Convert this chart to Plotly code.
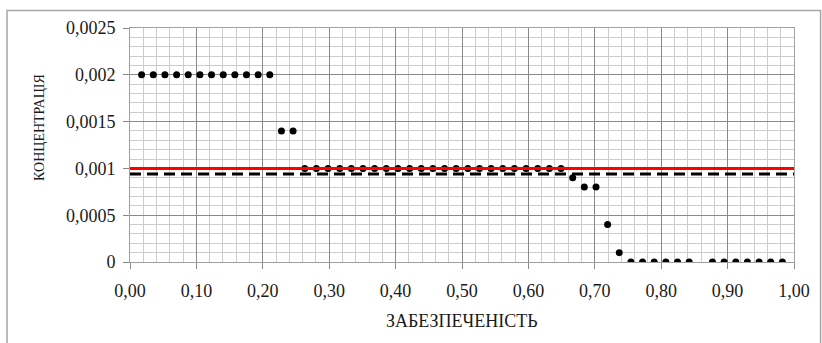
import plotly.graph_objects as go

# Probability of exceedance (забезпеченість) for each observation
prob = [0.0175, 0.0351, 0.0526, 0.0702, 0.0877, 0.1053, 0.1228, 0.1404, 0.1579, 0.1754,
        0.1930, 0.2105, 0.2281, 0.2456, 0.2632, 0.2807, 0.2982, 0.3158, 0.3333, 0.3509,
        0.3684, 0.3860, 0.4035, 0.4211, 0.4386, 0.4561, 0.4737, 0.4912, 0.5088, 0.5263,
        0.5439, 0.5614, 0.5789, 0.5965, 0.6140, 0.6316, 0.6491, 0.6667, 0.6842, 0.7018,
        0.7193, 0.7368, 0.7544, 0.7719, 0.7895, 0.8070, 0.8246, 0.8421, 0.8596, 0.8772,
        0.8947, 0.9123, 0.9298, 0.9474, 0.9649, 0.9825]
# Concentration values (None = no point plotted)
conc = [0.002] * 12 + [0.0014] * 2 + [0.001] * 23 + [0.0009, 0.0008, 0.0008, 0.0004, 0.0001] \
       + [0, 0, 0, 0, 0, 0, None, 0, 0, 0, 0, 0, 0, 0]

limit_value = 0.001      # red line
mean_value = 0.00094     # dashed line
line_x = [0, 1]

x_tickvals = [0.0, 0.1, 0.2, 0.3, 0.4, 0.5, 0.6, 0.7, 0.8, 0.9, 1.0]
x_ticktext = ["0,00", "0,10", "0,20", "0,30", "0,40", "0,50", "0,60", "0,70", "0,80", "0,90", "1,00"]
y_tickvals = [0, 0.0005, 0.001, 0.0015, 0.002, 0.0025]
y_ticktext = ["0", "0,0005", "0,001", "0,0015", "0,002", "0,0025"]

x_title = "ЗАБЕЗПЕЧЕНІСТЬ"
y_title = "КОНЦЕНТРАЦІЯ"

FONT = "Liberation Serif"

fig = go.Figure()
fig.add_trace(go.Scatter(x=prob, y=conc, mode="markers",
                         marker=dict(color="black", size=7), showlegend=False))
fig.add_trace(go.Scatter(x=line_x, y=[limit_value] * 2, mode="lines",
                         line=dict(color="#ff0000", width=3), showlegend=False))
fig.add_trace(go.Scatter(x=line_x, y=[mean_value] * 2, mode="lines",
                         line=dict(color="black", width=3, dash="11px,6px"), showlegend=False))

axis_common = dict(
    showline=True, linecolor="#a0a0a0", linewidth=1, mirror=True,
    showgrid=True, gridcolor="#8a8a8a", gridwidth=1,
    ticks="outside", ticklen=6, tickcolor="#8a8a8a",
    zeroline=False,
    tickfont=dict(family=FONT, size=18, color="#1a1a1a"),
)

fig.update_xaxes(range=[0, 1], tickvals=x_tickvals, ticktext=x_ticktext,
                 minor=dict(dtick=0.02, showgrid=True, gridcolor="#cccccc", gridwidth=1, ticks=""),
                 ticklabelstandoff=6,
                 **axis_common)
fig.update_yaxes(range=[0, 0.0025], tickvals=y_tickvals, ticktext=y_ticktext,
                 minor=dict(dtick=0.0001, showgrid=True, gridcolor="#cccccc", gridwidth=1, ticks=""),
                 ticklabelstandoff=4,
                 **axis_common)

fig.update_layout(
    width=822, height=343,
    margin=dict(l=130, r=23, t=28, b=81),
    plot_bgcolor="white", paper_bgcolor="white",
    font=dict(family=FONT),
    annotations=[
        dict(text=x_title, xref="paper", yref="paper", x=0.5, y=0, yanchor="middle",
             yshift=-59, showarrow=False, font=dict(family=FONT, size=18, color="#1a1a1a")),
        dict(text=y_title, xref="paper", yref="paper", x=0, y=0.573, xanchor="center",
             xshift=-90, textangle=-90, showarrow=False,
             font=dict(family=FONT, size=14, color="#1a1a1a")),
    ],
    shapes=[
        dict(type="rect", xref="paper", yref="paper", x0=-0.1852, x1=1.04, y0=-0.36, y1=1.0753,
             line=dict(color="#a6a6a6", width=1.5), layer="below"),
    ],
)

fig.write_html("out.html", config={"displayModeBar": False},
               post_script="document.body.style.margin='0';document.body.style.padding='0';")
